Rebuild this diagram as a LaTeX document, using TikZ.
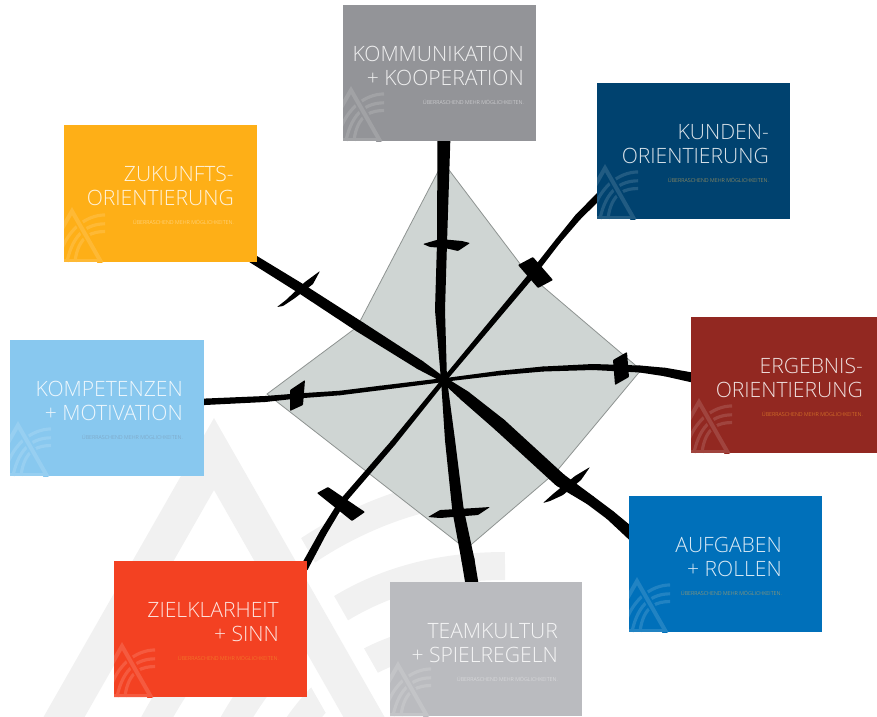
\documentclass[tikz,border=0pt]{standalone}
\usepackage{fontspec}
\setmainfont{Open Sans Light}
\usetikzlibrary{calc}
\definecolor{ink}{HTML}{000000}
\definecolor{wm}{HTML}{F1F1F1}
\definecolor{dia}{HTML}{CFD5D3}
\definecolor{diaedge}{HTML}{8E9391}
\definecolor{cKomm}{HTML}{939498}
\definecolor{cKund}{HTML}{00426F}
\definecolor{cErg}{HTML}{922821}
\definecolor{cAuf}{HTML}{0070BA}
\definecolor{cTeam}{HTML}{BABBBF}
\definecolor{cZiel}{HTML}{F34122}
\definecolor{cKomp}{HTML}{88C8EF}
\definecolor{cZuk}{HTML}{FEAF17}
\definecolor{sOrange}{HTML}{F0902A}
\definecolor{sTan}{HTML}{C9A85A}
\definecolor{sBlue}{HTML}{7A9CB8}
\definecolor{sPale}{HTML}{FFE3A8}
\definecolor{sWhite}{HTML}{E6E6E8}
\tikzset{
  cardbox/.style={anchor=north west,inner sep=0pt,outer sep=0pt,draw=none},
  title/.style={anchor=base east,inner sep=0pt,text=white,text opacity=.85,font=\fontsize{21.1}{24}\selectfont},
  subtitle/.style={anchor=base east,inner sep=0pt,font=\fontsize{5.4}{6}\selectfont},
  spokeink/.style={fill=ink,draw=none},
  barink/.style={fill=ink,draw=none,rounded corners=.8pt},
}
% watermark logo: coordinates relative to the apex, 1 unit = big logo pixel
\newcommand\logomark[5]{%
  \begin{scope}[shift={(#1,#2)},x=#3pt,y=-#3pt]
    \pgfmathsetmacro\bw{28*#3}\pgfmathsetmacro\gw{65*#3}
    \draw[#4,line width=\bw pt] (291,70) .. controls (126,70) and (-64,202) .. (-124,482);
    \draw[#4,line width=\bw pt] (291,148) .. controls (146,148) and (11,222) .. (-44,482);
    \draw[#4,line width=\bw pt] (291,216) .. controls (186,216) and (56,242) .. (26,482);
    \draw[#5,line width=\gw pt] (16.5,62) -- (261.6,492);
    \fill[#4,even odd rule] (0,0) -- (276,484) -- (-276,484) -- cycle (0,72) -- (220,458) -- (-220,458) -- cycle;
  \end{scope}}
\newcommand\card[6]{%
  \pgfmathsetmacro\cw{#4-#2}\pgfmathsetmacro\ch{#5-#3}
  \node[cardbox,fill=#6,minimum width=\cw pt,minimum height=\ch pt] (#1) at (#2,#3) {};
  \begin{scope}
    \clip (#2,#3) rectangle (#4,#5);
    \pgfmathsetmacro\ax{#2+8}\pgfmathsetmacro\ay{#5-55}
    \logomark{\ax}{\ay}{0.1136}{#6!87!white}{#6}
  \end{scope}}
\newcommand\cardtext[6]{%
  \pgfmathsetmacro\ya{#3+56}\pgfmathsetmacro\yb{#3+80}\pgfmathsetmacro\yc{#3+99}
  \node[title] (#1-a) at (#2,\ya) {#4};
  \node[title] (#1-b) at (#2,\yb) {#5};
  \node[subtitle,text=#6] (#1-c) at (#2,\yc) {ÜBERRASCHEND MEHR MÖGLICHKEITEN.};}
\newcommand\seg[4]{%
  \fill[spokeink] ($(#1)!#3pt*0.5!90:(#2)$) -- ($(#1)!#3pt*0.5!-90:(#2)$)
    -- ($(#2)!#4pt*0.5!90:(#1)$) -- ($(#2)!#4pt*0.5!-90:(#1)$) -- cycle;
  \fill[spokeink] (#2) circle[radius=#4pt*0.5];}
\begin{document}
\begin{tikzpicture}[x=1pt,y=-1pt]
\useasboundingbox (0,0) rectangle (877,716);
\begin{scope}
  \clip (0,0) rectangle (877,716);
  \logomark{214}{418}{1}{wm}{white}
\end{scope}
% diamond
\fill[dia,draw=diaedge,line width=.8pt] (443,162) -- (527,273) -- (641,370) -- (556,472) -- (466,549) -- (267,394) -- (357,327) -- cycle;
% hub and way points
\coordinate (hub) at (444,380);
\coordinate (a1) at (440,310); \coordinate (a2) at (442,243); \coordinate (a3) at (444,135);
\coordinate (b1) at (530,277); \coordinate (b2) at (558,241); \coordinate (b3) at (578,217); \coordinate (b4) at (600,195);
\coordinate (c1) at (500,373); \coordinate (c2) at (543,369); \coordinate (c3) at (593,367); \coordinate (c4) at (640,369); \coordinate (c5) at (665,372); \coordinate (c6) at (695,378);
\coordinate (d1) at (465,396); \coordinate (d2) at (500,425); \coordinate (d3) at (560,480); \coordinate (d4) at (590,500); \coordinate (d5) at (610,515); \coordinate (d6) at (635,537);
\coordinate (e1) at (450,440); \coordinate (e2) at (458,510); \coordinate (e3) at (468,560); \coordinate (e4) at (473,590);
\coordinate (f1) at (393,443); \coordinate (f2) at (342,502); \coordinate (f3) at (323,533); \coordinate (f4) at (304,568);
\coordinate (g1) at (380,388); \coordinate (g2) at (340,393); \coordinate (g3) at (297,396); \coordinate (g4) at (265,399); \coordinate (g5) at (200,402);
\coordinate (h1) at (420,365); \coordinate (h2) at (360,327); \coordinate (h3) at (300,288); \coordinate (h4) at (245,254);
% spokes
\seg{hub}{a1}{6}{10}\seg{a1}{a2}{10}{10}\seg{a2}{a3}{10}{13}
\seg{hub}{b1}{4.5}{6}\seg{b1}{b2}{6}{5.5}\seg{b2}{b3}{5.5}{6.5}\seg{b3}{b4}{6.5}{7}
\seg{hub}{c1}{3.5}{4.5}\seg{c1}{c2}{4.5}{5}\seg{c2}{c3}{5}{6}\seg{c3}{c4}{6}{7}\seg{c4}{c5}{7}{8.5}\seg{c5}{c6}{8.5}{10}
\seg{hub}{d1}{6}{11}\seg{d1}{d2}{11}{13.5}\seg{d2}{d3}{13.5}{13.5}\seg{d3}{d4}{13.5}{10}\seg{d4}{d5}{10}{10}\seg{d5}{d6}{10}{12}
\seg{hub}{e1}{6}{10}\seg{e1}{e2}{10}{11.5}\seg{e2}{e3}{11.5}{13}\seg{e3}{e4}{13}{13}
\seg{hub}{f1}{4.5}{5.5}\seg{f1}{f2}{5.5}{6}\seg{f2}{f3}{6}{7}\seg{f3}{f4}{7}{8}
\seg{hub}{g1}{4}{4.5}\seg{g1}{g2}{4.5}{4.5}\seg{g2}{g3}{4.5}{5}\seg{g3}{g4}{5}{6}\seg{g4}{g5}{6}{6.5}
\seg{hub}{h1}{5}{9.5}\seg{h1}{h2}{9.5}{11}\seg{h2}{h3}{11}{10}\seg{h3}{h4}{10}{9}
\fill[spokeink] (hub) circle[radius=5pt];
% cross bars
\fill[barink] (423,244) -- (440,239) -- (462,241) -- (470,243) -- (458,251) -- (445,248) -- (430,247) -- cycle;
\fill[barink] (518,265) -- (533,257) -- (553,280) -- (538,288) -- cycle;
\fill[barink] (613,360) -- (627,352) -- (629,377) -- (615,385) -- cycle;
\fill[barink] (543,503) -- (553,494) -- (575,476) -- (590,467) -- (581,480) -- (563,495) -- (550,501) -- cycle;
\fill[barink] (428,517) -- (440,510) -- (475,508) -- (490,507) -- (478,515) -- (440,518) -- cycle;
\fill[barink] (317,493) -- (328,487) -- (365,512) -- (352,521) -- cycle;
\fill[barink] (290,390) -- (305,380) -- (303,405) -- (290,411) -- cycle;
\fill[barink] (277,307) -- (286,300) -- (305,282) -- (320,271) -- (313,284) -- (295,298) -- (283,306) -- cycle;
% cards
\card{komm}{343}{5}{536}{141}{cKomm}
\cardtext{komm}{524}{5}{KOMMUNIKATION}{+ KOOPERATION}{sWhite}
\card{kund}{597}{83}{790}{219}{cKund}
\cardtext{kund}{769}{83}{KUNDEN-}{ORIENTIERUNG}{sTan}
\card{erg}{691}{317}{877}{453}{cErg}
\cardtext{erg}{863}{317}{ERGEBNIS-}{ORIENTIERUNG}{sOrange}
\card{auf}{629}{496}{822}{632}{cAuf}
\cardtext{auf}{782}{496}{AUFGABEN}{+ ROLLEN}{sTan}
\card{team}{390}{582}{582}{716}{cTeam}
\cardtext{team}{558}{582}{TEAMKULTUR}{+ SPIELREGELN}{sWhite}
\card{ziel}{114}{561}{307}{697}{cZiel}
\cardtext{ziel}{279}{561}{ZIELKLARHEIT}{+ SINN}{sOrange}
\card{komp}{10}{340}{204}{476}{cKomp}
\cardtext{komp}{183}{340}{KOMPETENZEN}{+ MOTIVATION}{sBlue}
\card{zuk}{64}{125}{257}{262}{cZuk}
\cardtext{zuk}{234}{125}{ZUKUNFTS-}{ORIENTIERUNG}{sPale}
\end{tikzpicture}
\end{document}
